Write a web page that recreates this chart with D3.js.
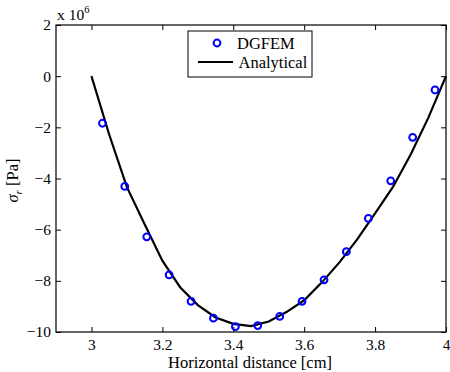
<!DOCTYPE html>
<html>
<head>
<meta charset="utf-8">
<script src="https://cdn.jsdelivr.net/npm/d3@7"></script>
<style>
  body { margin: 0; background: #fff; }
  text { font-family: "Liberation Serif", "Times New Roman", serif; fill: #000; }
</style>
</head>
<body>
<div id="chart"></div>
<script>
// DGFEM samples (x in cm, sigma_r in 1e6 Pa)
const dgfemX = [3.031, 3.094, 3.156, 3.219, 3.281, 3.344, 3.406, 3.469,
                3.531, 3.594, 3.656, 3.719, 3.781, 3.844, 3.906, 3.969]
const dgfemY = [-1.84, -4.31, -6.28, -7.77, -8.80, -9.46, -9.79, -9.75,
                -9.39, -8.80, -7.96, -6.86, -5.56, -4.09, -2.39, -0.54]

// analytical curve
const analyticX = [3.00, 3.05, 3.10, 3.15, 3.20, 3.25, 3.30, 3.35, 3.40, 3.45, 3.50,
                   3.55, 3.60, 3.65, 3.70, 3.75, 3.80, 3.85, 3.90, 3.95, 4.00]
const analyticY = [0, -2.28, -4.34, -5.79, -7.21, -8.25, -8.95, -9.43, -9.68, -9.77, -9.59,
                   -9.22, -8.76, -8.06, -7.27, -6.37, -5.36, -4.34, -3.07, -1.63, 0]

const xTicks = [3, 3.2, 3.4, 3.6, 3.8, 4]
const yTicks = [2, 0, -2, -4, -6, -8, -10]
const legendLabels = ["DGFEM", "Analytical"]

const width = 450, height = 372
const margin = { top: 25, right: 4, bottom: 40, left: 56 }
const innerW = width - margin.left - margin.right
const innerH = height - margin.top - margin.bottom
const fs = 16.5

const svg = d3.select("#chart").append("svg")
  .attr("width", width)
  .attr("height", height)

const g = svg.append("g")
  .attr("transform", "translate(" + margin.left + "," + margin.top + ")")

const x = d3.scaleLinear().domain([2.9, 4]).range([0, innerW])
const y = d3.scaleLinear().domain([-10, 2]).range([innerH, 0])

const tickLen = 5
const fmt = d => d < 0 ? "\u2212" + Math.abs(d) : String(d)

// axes with inward ticks, mirrored on top/right
const xAxis = d3.axisBottom(x).tickValues(xTicks).tickSize(-tickLen).tickPadding(7).tickFormat(d => String(d))
const yAxis = d3.axisLeft(y).tickValues(yTicks).tickSize(-tickLen).tickPadding(5).tickFormat(fmt)

g.append("g").attr("transform", "translate(0," + innerH + ")").call(xAxis)
g.append("g").call(yAxis)
g.append("g").call(d3.axisTop(x).tickValues(xTicks).tickSize(-tickLen).tickFormat(""))
g.append("g").attr("transform", "translate(" + innerW + ",0)")
  .call(d3.axisRight(y).tickValues(yTicks).tickSize(-tickLen).tickFormat(""))

g.selectAll(".domain").remove()
g.selectAll(".tick line").attr("stroke", "#000").attr("stroke-width", 1)
g.selectAll(".tick text").attr("font-size", 15.5)

g.append("rect")
  .attr("width", innerW).attr("height", innerH)
  .attr("fill", "none").attr("stroke", "#000").attr("stroke-width", 1.2)

// analytical line
const line = d3.line().x(d => x(d[0])).y(d => y(d[1]))
g.append("path")
  .datum(d3.zip(analyticX, analyticY))
  .attr("d", line)
  .attr("fill", "none")
  .attr("stroke", "#000")
  .attr("stroke-width", 2.2)

// DGFEM markers
g.selectAll("circle.pt")
  .data(d3.zip(dgfemX, dgfemY))
  .join("circle")
    .attr("class", "pt")
    .attr("cx", d => x(d[0]))
    .attr("cy", d => y(d[1]))
    .attr("r", 3.4)
    .attr("fill", "none")
    .attr("stroke", "#0000ff")
    .attr("stroke-width", 2)

// exponent label
const exp = svg.append("text")
  .attr("x", margin.left + 1)
  .attr("y", 20)
  .attr("font-size", 15.5)
exp.append("tspan").text("x 10")
exp.append("tspan").attr("dy", -7).attr("font-size", 10.5).text("6")

// axis titles
svg.append("text")
  .attr("x", margin.left + innerW / 2 - 1)
  .attr("y", height - 4)
  .attr("text-anchor", "middle")
  .attr("font-size", fs)
  .text("Horizontal distance [cm]")

const yl = svg.append("text")
  .attr("transform", "translate(18," + (margin.top + innerH / 2 + 2) + ") rotate(-90)")
  .attr("text-anchor", "middle")
  .attr("font-size", fs)
yl.append("tspan").attr("font-style", "italic").text("\u03c3")
yl.append("tspan").attr("font-style", "italic").attr("font-size", 11).attr("dy", 4).text("r")
yl.append("tspan").attr("dy", -4).text(" [Pa]")

// legend
const lg = svg.append("g").attr("transform", "translate(188,31)")
lg.append("rect")
  .attr("width", 124).attr("height", 46)
  .attr("fill", "#fff").attr("stroke", "#000").attr("stroke-width", 1)
lg.append("circle")
  .attr("cx", 29).attr("cy", 12).attr("r", 3.4)
  .attr("fill", "none").attr("stroke", "#0000ff").attr("stroke-width", 2)
lg.append("line")
  .attr("x1", 10).attr("x2", 45).attr("y1", 31).attr("y2", 31)
  .attr("stroke", "#000").attr("stroke-width", 2.2)
lg.selectAll("text.lab")
  .data(legendLabels)
  .join("text")
    .attr("class", "lab")
    .attr("x", (d, i) => i === 0 ? 49 : 50.5)
    .attr("y", (d, i) => 17.7 + i * 19.3)
    .attr("font-size", fs)
    .text(d => d)
</script>
</body>
</html>
